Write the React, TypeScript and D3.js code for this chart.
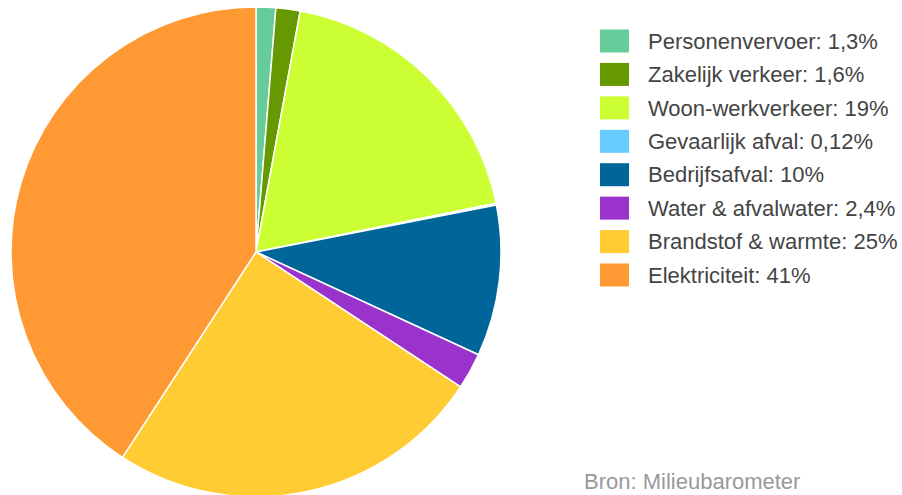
import { useEffect, useRef } from "react";
import * as d3 from "d3";

const categories = [
  "Personenvervoer",
  "Zakelijk verkeer",
  "Woon-werkverkeer",
  "Gevaarlijk afval",
  "Bedrijfsafval",
  "Water & afvalwater",
  "Brandstof & warmte",
  "Elektriciteit",
];
const values = [1.3, 1.6, 19, 0.12, 10, 2.4, 25, 41];
const valueLabels = ["1,3%", "1,6%", "19%", "0,12%", "10%", "2,4%", "25%", "41%"];
const colors = [
  "#66cc99",
  "#669900",
  "#ccff33",
  "#66ccff",
  "#006699",
  "#9933cc",
  "#ffcc33",
  "#ff9933",
];
const source = "Bron: Milieubarometer";

interface Slice {
  name: string;
  value: number;
  label: string;
  color: string;
}

const App = () => {
  const svgRef = useRef<SVGSVGElement | null>(null);

  useEffect(() => {
    document.body.style.margin = "0";
    const svg = d3.select(svgRef.current);
    svg.selectAll("*").remove();

    const data: Slice[] = categories.map((name, i) => ({
      name,
      value: values[i],
      label: valueLabels[i],
      color: colors[i],
    }));

    const radius = 245;
    const g = svg.append("g").attr("transform", `translate(256,252)`);

    const pie = d3
      .pie<Slice>()
      .sort(null)
      .value((d) => d.value);
    const arc = d3.arc<d3.PieArcDatum<Slice>>().innerRadius(0).outerRadius(radius);

    g.selectAll("path")
      .data(pie(data))
      .join("path")
      .attr("d", arc)
      .attr("fill", (d) => d.data.color)
      .attr("stroke", "#ffffff")
      .attr("stroke-width", 1.5)
      .attr("stroke-linejoin", "round");

    // legend row centres
    const legendY = d3.scalePoint<string>().domain(categories).range([41, 275]);

    const legend = svg
      .append("g")
      .selectAll("g")
      .data(data)
      .join("g")
      .attr("transform", (d) => `translate(600,${legendY(d.name)})`);

    legend
      .append("rect")
      .attr("width", 29)
      .attr("height", 23)
      .attr("y", -11.5)
      .attr("fill", (d) => d.color);

    legend
      .append("text")
      .attr("x", 48)
      .attr("y", 0)
      .attr("dy", "0.35em")
      .attr("fill", "#444444")
      .attr("font-size", 22)
      .text((d) => `${d.name}: ${d.label}`);

    svg
      .append("text")
      .attr("x", 584)
      .attr("y", 489)
      .attr("fill", "#999999")
      .attr("font-size", 22)
      .text(source);
  }, []);

  return (
    <svg
      ref={svgRef}
      role="img"
      aria-label="Milieubarometer pie chart"
      width={902}
      height={495}
      style={{ display: "block", fontFamily: "'Liberation Sans', Arial, sans-serif" }}
    />
  );
};

export default App;
